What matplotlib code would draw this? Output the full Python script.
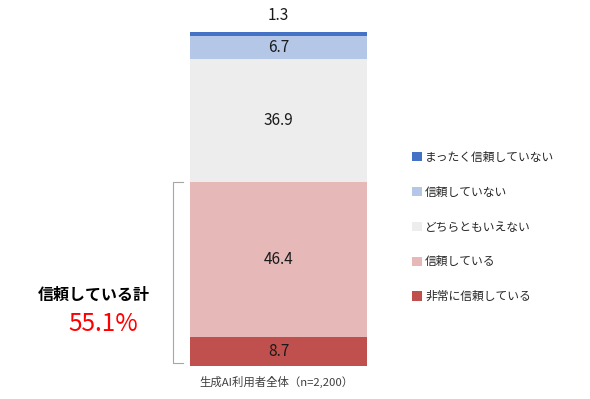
import matplotlib.pyplot as plt

plt.rcParams['font.family'] = ['Noto Sans CJK JP', 'DejaVu Sans']

# data (bottom to top)
categories = ["非常に信頼している", "信頼している", "どちらともいえない", "信頼していない", "まったく信頼していない"]
values = [8.7, 46.4, 36.9, 6.7, 1.3]
colors = ["#C0504D", "#E6B8B7", "#EDEDED", "#B4C7E7", "#4472C4"]
bar_label = "生成AI利用者全体（n=2,200）"
total_label = "信頼している計"
total_value = "55.1%"

fig = plt.figure(figsize=(5.9, 3.99), dpi=100)
ax = fig.add_axes([190 / 590, 33 / 399, 177 / 590, 334 / 399])

bottom = 0
handles = []
for cat, v, c in zip(categories, values, colors):
    h = ax.bar(0, v, width=1.0, bottom=bottom, color=c, label=cat)
    handles.append(h)
    if v < 3:
        ax.text(0, bottom + v + 2.5, f"{v:.1f}", ha='center', va='bottom', fontsize=11, color='#1A1A1A')
    else:
        ax.text(0, bottom + v / 2, f"{v:.1f}", ha='center', va='center', fontsize=11, color='#1A1A1A')
    bottom += v

ax.set_xlim(-0.5, 0.5)
ax.set_ylim(0, 100)
ax.axis('off')

# bracket around "trust" segments
top_trust = values[0] + values[1]
bx0, bx1 = -0.5 - 17 / 177, -0.5 - 7 / 177
ax.plot([bx1, bx0, bx0, bx1], [top_trust, top_trust, 1, 1], color='#A6A6A6', lw=0.8, clip_on=False)

fig.text(94 / 590, 1 - 295 / 399, total_label, ha='center', va='center', fontsize=11.5, fontweight='bold')
fig.text(103 / 590, 1 - 324 / 399, total_value, ha='center', va='center', fontsize=17.5, color='#FF0000')
fig.text(276 / 590, 1 - 382 / 399, bar_label, ha='center', va='center', fontsize=8.2, color='#404040')

fig.legend(handles[::-1], categories[::-1], loc='center left', bbox_to_anchor=(401 / 590, 1 - 227 / 399),
           frameon=False, fontsize=8.5, handlelength=0.85, handleheight=0.85, handletextpad=0.3,
           labelspacing=1.85, labelcolor='#262626')

fig.savefig("out.png", dpi=100)
